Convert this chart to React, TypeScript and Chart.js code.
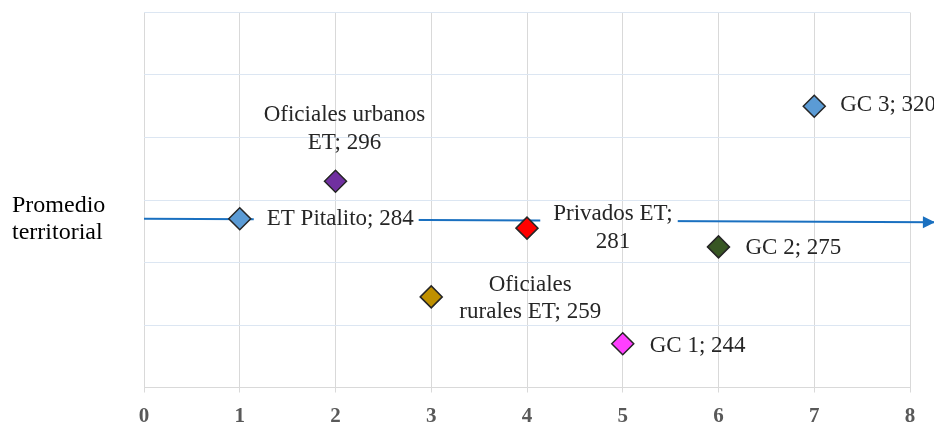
import React, { useEffect, useRef } from "react";
import { Chart, registerables } from "chart.js";

Chart.register(...registerables);

// ---- data ----
const groupNames = ["ET Pitalito", "Oficiales urbanos ET", "Oficiales rurales ET", "Privados ET", "GC 1", "GC 2", "GC 3"];
const xPositions = [1, 2, 3, 4, 5, 6, 7];
const scores = [284, 296, 259, 281, 244, 275, 320];
const labelLines = [
  ["ET Pitalito; 284"],
  ["Oficiales urbanos", "ET; 296"],
  ["Oficiales", "rurales ET; 259"],
  ["Privados ET;", "281"],
  ["GC 1; 244"],
  ["GC 2; 275"],
  ["GC 3; 320"],
];
const pointColors = ["#5b9bd5", "#7030a0", "#bf9000", "#ff0000", "#ff3fff", "#375623", "#5b9bd5"];
const averageLineX = [0, 8.26];
const averageLineY = [284, 282.9];
const averageLabel = ["Promedio", "territorial"];
const xMin = 0;
const xMax = 8;
const yMin = 230;
const yMax = 350;

// ---- label placement (style) ----
const labelPlacement = [
  { dx: 27, dys: [0], align: "left" },
  { dx: 9, dys: [-66, -38], align: "center" },
  { dx: 99, dys: [-12, 15], align: "center" },
  { dx: 86, dys: [-14, 14], align: "center" },
  { dx: 27, dys: [2], align: "left" },
  { dx: 27, dys: [1], align: "left" },
  { dx: 26, dys: [-1], align: "left" },
];

const LINE_COLOR = "#1a70c0";
const TEXT_COLOR = "#262626";
const FONT = '23px "Liberation Serif"';
const CAPTION_FONT = '24px "Liberation Serif"';

function labelBoxes(chart: any) {
  const ctx = chart.ctx;
  const meta = chart.getDatasetMeta(1);
  ctx.save();
  ctx.font = FONT;
  const boxes = meta.data.map((el: any, i: number) => {
    const p = labelPlacement[i];
    const lines = labelLines[i];
    const maxW = Math.max(...lines.map((l) => ctx.measureText(l).width));
    const ax = el.x + p.dx;
    const left = p.align === "left" ? ax : ax - maxW / 2;
    const top = el.y + p.dys[0] - 13;
    const bottom = el.y + p.dys[p.dys.length - 1] + 13;
    return { x: left - 13, y: top, w: maxW + 18, h: bottom - top };
  });
  ctx.restore();
  return boxes;
}

const labelPlugin = {
  id: "customLabels",
  beforeDatasetDraw(chart: any, args: any) {
    if (chart.data.datasets[args.index].label !== "Promedio territorial") return;
    const ctx = chart.ctx;
    const boxes = labelBoxes(chart);
    ctx.save();
    ctx.beginPath();
    ctx.rect(0, 0, chart.width, chart.height);
    boxes.forEach((b: any) => ctx.rect(b.x, b.y, b.w, b.h));
    ctx.clip("evenodd");
  },
  afterDatasetDraw(chart: any, args: any) {
    if (chart.data.datasets[args.index].label !== "Promedio territorial") return;
    const ctx = chart.ctx;
    ctx.restore();
    const xs = chart.scales.x;
    const ys = chart.scales.y;
    ctx.save();
    // arrow head
    const x1 = xs.getPixelForValue(averageLineX[0]);
    const y1 = ys.getPixelForValue(averageLineY[0]);
    const x2 = xs.getPixelForValue(averageLineX[1]);
    const y2 = ys.getPixelForValue(averageLineY[1]);
    const ang = Math.atan2(y2 - y1, x2 - x1);
    const L = 12, W = 6;
    ctx.fillStyle = LINE_COLOR;
    ctx.beginPath();
    ctx.moveTo(x2, y2);
    ctx.lineTo(x2 - L * Math.cos(ang) + W * Math.sin(ang), y2 - L * Math.sin(ang) - W * Math.cos(ang));
    ctx.lineTo(x2 - L * Math.cos(ang) - W * Math.sin(ang), y2 - L * Math.sin(ang) + W * Math.cos(ang));
    ctx.closePath();
    ctx.fill();

    // data labels
    const meta = chart.getDatasetMeta(1);
    ctx.font = FONT;
    ctx.textBaseline = "middle";
    meta.data.forEach((el: any, i: number) => {
      const p = labelPlacement[i];
      const lines = labelLines[i];
      const ax = el.x + p.dx;
      ctx.fillStyle = TEXT_COLOR;
      ctx.textAlign = p.align === "left" ? "left" : "center";
      lines.forEach((l, k) => {
        ctx.fillText(l, ax, el.y + p.dys[k]);
      });
    });

    // "Promedio territorial" caption
    ctx.font = CAPTION_FONT;
    ctx.textAlign = "left";
    ctx.fillStyle = "#000000";
    ctx.fillText(averageLabel[0], 12, y1 - 13);
    ctx.fillText(averageLabel[1], 12, y1 + 14);
    ctx.restore();
  },
};

export default function App() {
  const ref = useRef<HTMLCanvasElement | null>(null);
  useEffect(() => {
    if (!ref.current) return;
    const chart = new Chart(ref.current, {
      type: "scatter",
      data: {
        datasets: [
          {
            type: "line",
            label: "Promedio territorial",
            data: averageLineX.map((x, i) => ({ x, y: averageLineY[i] })),
            borderColor: LINE_COLOR,
            borderWidth: 2,
            pointRadius: 0,
            clip: false as any,
            order: 2,
          } as any,
          {
            type: "scatter",
            label: "Grupos",
            data: xPositions.map((x, i) => ({ x, y: scores[i] })),
            pointStyle: "rectRot",
            pointRadius: 11,
            pointHoverRadius: 11,
            backgroundColor: pointColors,
            borderColor: "#262626",
            borderWidth: 1.5,
            order: 1,
          } as any,
        ],
      },
      options: {
        responsive: false,
        animation: false,
        devicePixelRatio: 1,
        layout: { padding: { left: 144, right: 24, top: 11, bottom: 0 } },
        plugins: { legend: { display: false }, tooltip: { enabled: false } },
        scales: {
          x: {
            type: "linear",
            min: xMin,
            max: xMax,
            ticks: {
              stepSize: 1,
              color: "#595959",
              font: { family: '"Liberation Serif"', size: 21, weight: "bold" },
              padding: 11,
            },
            grid: { color: "#d9d9d9", tickLength: 5, drawTicks: true },
            border: { color: "#d9d9d9", width: 1 },
            afterFit: (axis: any) => {
              axis.height = 34.5;
            },
          },
          y: {
            type: "linear",
            min: yMin,
            max: yMax,
            ticks: { stepSize: 20, display: false },
            grid: { color: "#dce6f2", drawTicks: false },
            border: { display: false },
            afterFit: (axis: any) => {
              axis.width = 0;
            },
          },
        },
      } as any,
      plugins: [labelPlugin],
    });
    return () => chart.destroy();
  }, []);
  return (
    <div style={{ position: "absolute", left: 0, top: 0, width: 934, height: 422, background: "#fff" }}>
      <canvas ref={ref} width={934} height={422} style={{ display: "block" }} />
    </div>
  );
}
